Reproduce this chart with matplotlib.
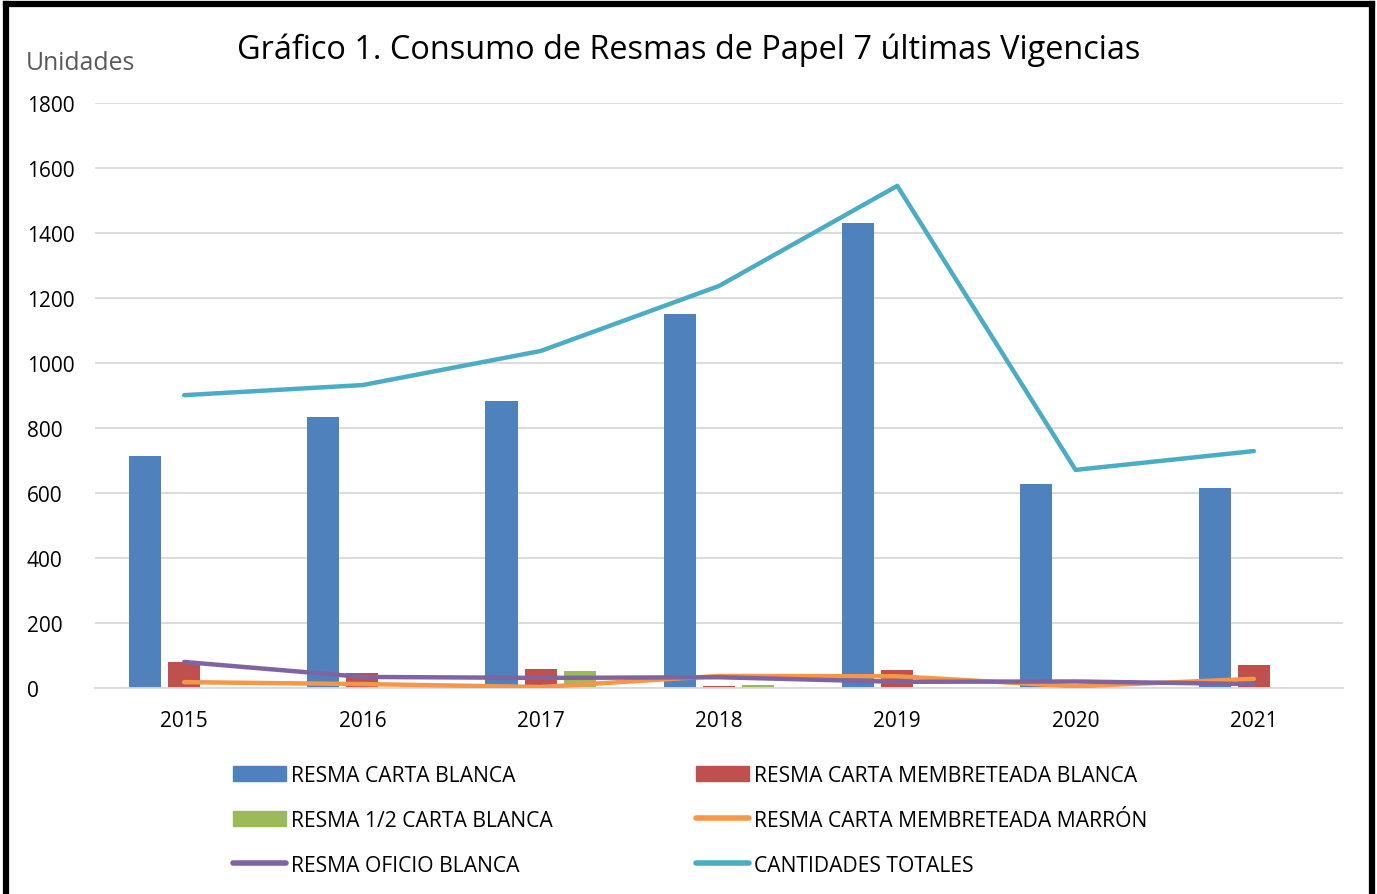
import numpy as np
import matplotlib
matplotlib.use("Agg")
import matplotlib.pyplot as plt
from matplotlib.lines import Line2D
from matplotlib.patches import Patch

plt.rcParams["font.family"] = ["Open Sans", "DejaVu Sans"]

years = ["2015", "2016", "2017", "2018", "2019", "2020", "2021"]
carta_blanca = [714, 834, 883, 1151, 1431, 628, 615]
membreteada_blanca = [80, 46, 58, 6, 55, 0, 71]
media_carta = [0, 0, 52, 9, 3, 0, 0]
membreteada_marron = [18, 12, 3, 37, 36, 5, 28]
oficio_blanca = [80, 34, 31, 33, 19, 20, 12]
totales = [901, 932, 1037, 1237, 1545, 671, 729]

c_blue, c_red, c_green = "#4F81BD", "#C0504D", "#9BBB59"
c_orange, c_purple, c_cyan = "#F79646", "#8064A2", "#4BACC6"

fig = plt.figure(figsize=(13.77, 8.95), dpi=100)
ax = fig.add_axes([0.069, 0.2302, 0.9063, 0.6536])

x = np.arange(len(years))
w = 0.18
off = 0.22
ax.bar(x - off, carta_blanca, w, color=c_blue, zorder=2)
ax.bar(x, membreteada_blanca, w, color=c_red, zorder=2)
ax.bar(x + off, media_carta, w, color=c_green, zorder=2)
lkw = dict(lw=3.2, solid_capstyle="round", solid_joinstyle="round", zorder=3)
ax.plot(x, membreteada_marron, color=c_orange, **lkw)
ax.plot(x, oficio_blanca, color=c_purple, **lkw)
ax.plot(x, totales, color=c_cyan, **lkw)

ax.set_xlim(-0.5, len(years) - 0.5)
ax.set_ylim(0, 1800)
ax.set_yticks(range(0, 1801, 200))
ax.set_xticks(x)
ax.set_xticklabels(years)
ax.tick_params(length=0, labelsize=15, colors="black")
ax.tick_params(axis="x", pad=16)
ax.tick_params(axis="y", pad=49)
for lab in ax.get_yticklabels():
    lab.set_horizontalalignment("left")
ax.grid(axis="y", color="#D9D9D9", lw=1.3, zorder=0)
for s in ["top", "right", "left"]:
    ax.spines[s].set_visible(False)
ax.spines["bottom"].set_color("#D9D9D9")
ax.spines["bottom"].set_linewidth(1.3)

fig.text(0.5, 0.944, "Gráfico 1. Consumo de Resmas de Papel 7 últimas Vigencias",
         ha="center", va="center", fontsize=23.4)
fig.text(0.019, 0.929, "Unidades", ha="left", va="center", fontsize=17.8, color="#595959")

handles = [
    Patch(color=c_blue), Patch(color=c_green),
    Line2D([], [], color=c_purple, lw=4, solid_capstyle="round"),
    Patch(color=c_red),
    Line2D([], [], color=c_orange, lw=4, solid_capstyle="round"),
    Line2D([], [], color=c_cyan, lw=4, solid_capstyle="round"),
]
labels = ["RESMA CARTA BLANCA", "RESMA 1/2 CARTA BLANCA", "RESMA OFICIO BLANCA",
          "RESMA CARTA MEMBRETEADA BLANCA", "RESMA CARTA MEMBRETEADA MARRÓN",
          "CANTIDADES TOTALES"]
fig.legend(handles, labels, ncol=2, frameon=False, fontsize=15.2,
           loc="upper left", bbox_to_anchor=(0.163, 0.154),
           handlelength=2.5, handleheight=0.7, handletextpad=0.25,
           columnspacing=6.8, labelspacing=1.14, borderaxespad=0)

# black frame (no bottom edge)
fr = dict(color="black", lw=4.5, transform=fig.transFigure, clip_on=False)
fig.add_artist(Line2D([0.0047, 0.0047], [0, 0.9947], **fr))
fig.add_artist(Line2D([0.0047, 0.9964], [0.9947, 0.9947], **fr))
fig.add_artist(Line2D([0.9964, 0.9964], [0, 0.9947], **fr))

fig.savefig("out.png", dpi=100)
